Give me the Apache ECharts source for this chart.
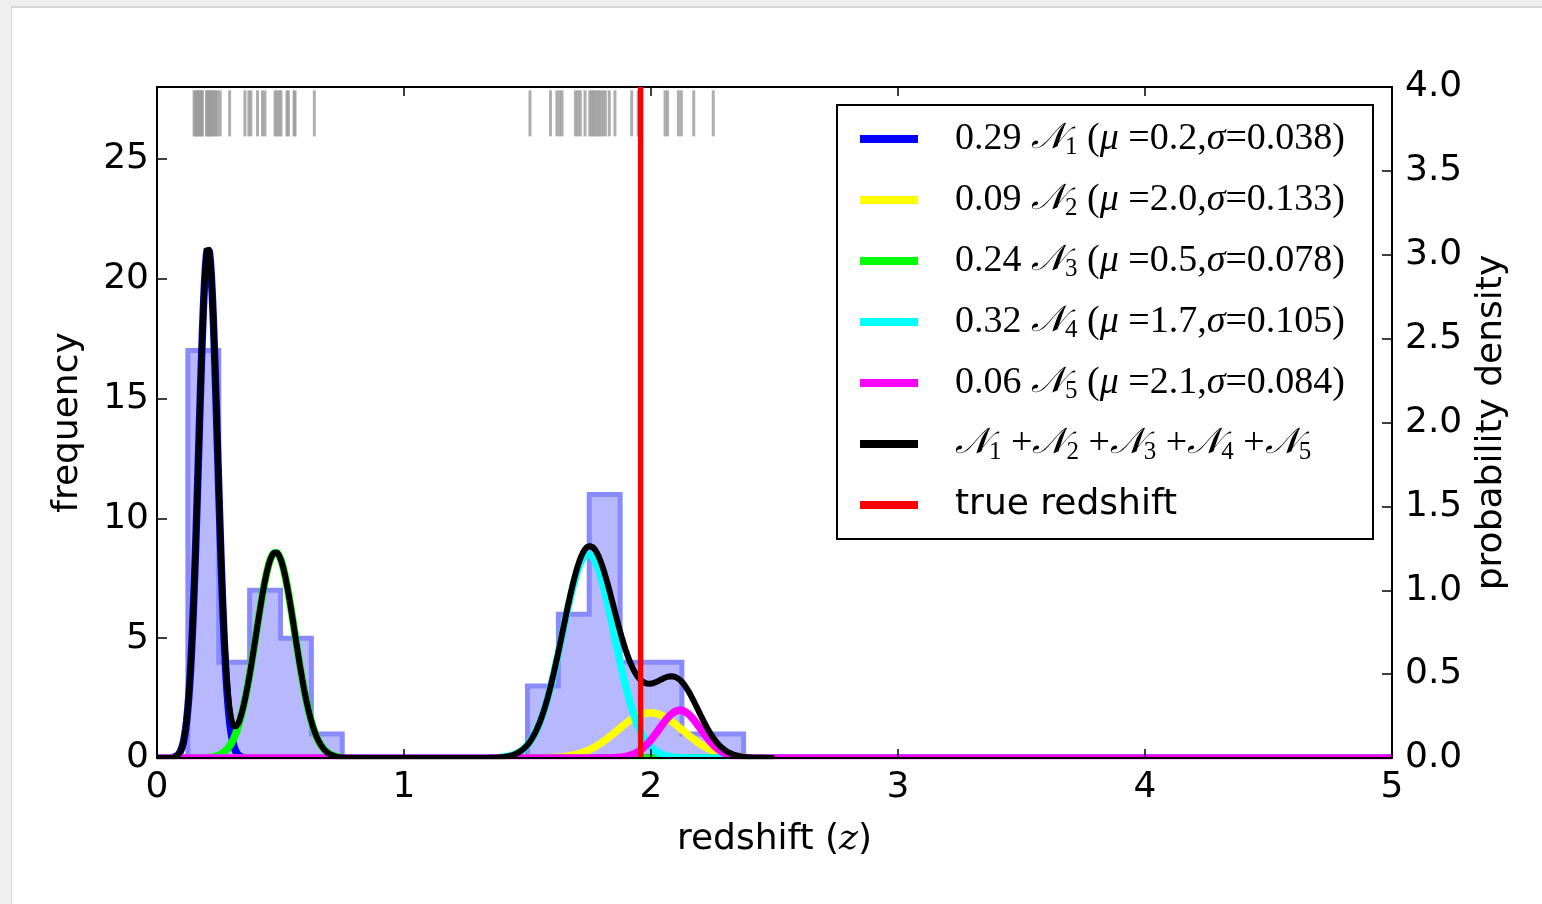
<!DOCTYPE html>
<html>
<head>
<meta charset="utf-8">
<script src="https://cdn.jsdelivr.net/npm/echarts@6/dist/echarts.min.js"></script>
<style>
html, body { margin: 0; padding: 0; background: #efefef; }
#frame { position: absolute; left: 11px; top: 6px; width: 1531px; height: 898px; background: #fff;
         border-left: 1px solid #d9d9d9; border-top: 2px solid #d6d6d6; box-sizing: border-box; }
#key { position: absolute; left: 0; top: 0; width: 1542px; height: 904px; }
</style>
</head>
<body>
<div id="frame"></div>
<div id="key"></div>
<script>
// histogram of redshift samples
var binEdges = [0.125, 0.25, 0.375, 0.5, 0.625, 0.75, 0.875, 1.0, 1.125, 1.25, 1.375,
                1.5, 1.625, 1.75, 1.875, 2.0, 2.125, 2.25, 2.375];
var binCounts = [17, 4, 7, 5, 1, 0, 0, 0, 0, 0, 0, 3, 6, 11, 4, 4, 1, 1];

// individual samples (rug at the top)
var samples = [
  0.150, 0.155, 0.160, 0.165, 0.170, 0.175, 0.180, 0.184, 0.200, 0.205, 0.210, 0.215,
  0.220, 0.226, 0.232, 0.238, 0.245, 0.256, 0.294, 0.356, 0.372, 0.380, 0.407, 0.427,
  0.437, 0.478, 0.486, 0.495, 0.502, 0.526, 0.532, 0.555, 0.559, 0.637,
  1.510, 1.593, 1.619, 1.630, 1.640, 1.694, 1.704, 1.714, 1.733, 1.752, 1.759, 1.766,
  1.773, 1.781, 1.789, 1.797, 1.806, 1.815, 1.831, 1.854, 1.922, 1.948, 1.955, 1.962,
  2.057, 2.067, 2.111, 2.123, 2.173, 2.252
];
var rugLevel = 26.9;

// gaussian mixture components
var compWeight = [0.29, 0.09, 0.24, 0.32, 0.06];
var compMu = [0.207, 1.996, 0.480, 1.746, 2.117];
var compSigma = [0.038, 0.133, 0.078, 0.105, 0.084];
var compWeightLabel = ['0.29', '0.09', '0.24', '0.32', '0.06'];
var compMuLabel = ['0.2', '2.0', '0.5', '1.7', '2.1'];
var compSigmaLabel = ['0.038', '0.133', '0.078', '0.105', '0.084'];
var compColors = ['#0000ff', '#ffff00', '#00ff00', '#00ffff', '#ff00ff'];
var sumRange = [0, 2.5];

var trueRedshift = 1.958;

var xTicks = [0, 5, 1];
var leftTicks = [0, 28, 5];
var rightTicks = [0, 4, 0.5];

var myChart = echarts.init(document.getElementById('key'), null, { renderer: 'canvas' });

// histogram outline as step points
var histData = [[binEdges[0], 0]];
for (var i = 0; i < binCounts.length; i++) histData.push([binEdges[i], binCounts[i]]);
histData.push([binEdges[binEdges.length - 1], 0]);

// evaluate component densities
var step = 0.004;
var compData = compWeight.map(function () { return []; });
var sumData = [];
for (var k = 0; k <= 1250; k++) {
  var x = k * step;
  var tot = 0;
  for (var c = 0; c < compWeight.length; c++) {
    var d = (x - compMu[c]) / compSigma[c];
    var v = compWeight[c] / (compSigma[c] * Math.sqrt(2 * Math.PI)) * Math.exp(-0.5 * d * d);
    compData[c].push([x, v]);
    tot += v;
  }
  if (x >= sumRange[0] && x <= sumRange[1] + 1e-9) sumData.push([x, tot]);
}

var legendText = {};
var compNames = [];
for (var c = 0; c < compWeight.length; c++) {
  var nm = 'N' + (c + 1);
  compNames.push(nm);
  legendText[nm] = '{n|' + compWeightLabel[c] + ' }{m|\uD835\uDCA9}{s|' + (c + 1) + '}{n| (}{g|\u03BC}{n| =' +
    compMuLabel[c] + ',}{g|\u03C3}{n|=' + compSigmaLabel[c] + ')}';
}
legendText['sum'] = '{m|\uD835\uDCA9}{s|1}{n| +}{m|\uD835\uDCA9}{s|2}{n| +}{m|\uD835\uDCA9}{s|3}{n| +}{m|\uD835\uDCA9}{s|4}{n| +}{m|\uD835\uDCA9}{s|5}';
legendText['true'] = '{t|true redshift}';

var axisFont = { color: '#000', fontSize: 36, fontFamily: 'DejaVu Sans' };
var spine = { show: true, onZero: false, lineStyle: { color: '#000', width: 2 } };
var tick = { show: true, inside: true, length: 9, lineStyle: { color: '#000', width: 1.5 } };

var series = [
  {
    name: 'hist', type: 'line', step: 'end', data: histData, xAxisIndex: 0, yAxisIndex: 0,
    showSymbol: false, silent: true,
    lineStyle: { color: '#8a8aff', width: 5, join: 'miter' },
    areaStyle: { color: '#b8b8ff', opacity: 1 }
  },
  {
    name: 'rug', type: 'scatter', xAxisIndex: 0, yAxisIndex: 0, silent: true,
    data: samples.map(function (s) { return [s, rugLevel]; }),
    symbol: 'rect', symbolSize: [3, 46],
    itemStyle: { color: '#9a9a9a' }
  }
];
compNames.forEach(function (nm, c) {
  series.push({
    name: nm, type: 'line', data: compData[c], xAxisIndex: 0, yAxisIndex: 1,
    showSymbol: false, color: compColors[c], lineStyle: { color: compColors[c], width: 7.5 }
  });
});
series.push({
  name: 'sum', type: 'line', data: sumData, xAxisIndex: 0, yAxisIndex: 1,
  showSymbol: false, color: '#000', lineStyle: { color: '#000', width: 6 }
});
series.push({
  name: 'true', type: 'line', data: [[trueRedshift, leftTicks[0]], [trueRedshift, leftTicks[1]]],
  xAxisIndex: 0, yAxisIndex: 0, showSymbol: false, color: '#ff0000',
  lineStyle: { color: '#ff0000', width: 5.5 }
});

var option = {
  animation: false,
  grid: { left: 157, top: 87, width: 1235, height: 671 },
  // hide the parts of the curves that spill outside the plot frame
  graphic: [
    { type: 'rect', z: 100, silent: true, shape: { x: 150, y: 759.2, width: 1250, height: 12 }, style: { fill: '#fff' } },
    { type: 'rect', z: 100, silent: true, shape: { x: 150, y: 748, width: 6, height: 12 }, style: { fill: '#fff' } },
    { type: 'rect', z: 100, silent: true, shape: { x: 1393.1, y: 748, width: 6, height: 12 }, style: { fill: '#fff' } }
  ],
  legend: {
    data: compNames.concat(['sum', 'true']),
    orient: 'vertical', left: 837, top: 105,
    padding: [13, 18, 13, 23], itemGap: 19,
    icon: 'rect', itemWidth: 58, itemHeight: 8,
    borderColor: '#000', borderWidth: 2, backgroundColor: '#fff',
    selectedMode: false,
    formatter: function (name) { return legendText[name]; },
    textStyle: {
      width: 400, lineHeight: 42, padding: [0, 0, 0, 32], color: '#000',
      rich: {
        n: { fontFamily: 'Liberation Serif', fontSize: 38, color: '#000' },
        m: { fontFamily: 'DejaVu Serif', fontSize: 36, fontStyle: 'italic', color: '#000' },
        s: { fontFamily: 'Liberation Serif', fontSize: 25, color: '#000', verticalAlign: 'bottom', lineHeight: 16 },
        g: { fontFamily: 'Liberation Serif', fontSize: 38, fontStyle: 'italic', color: '#000' },
        t: { fontFamily: 'DejaVu Sans', fontSize: 36, color: '#000' }
      }
    }
  },
  xAxis: [
    {
      type: 'value', min: xTicks[0], max: xTicks[1], interval: xTicks[2], position: 'bottom', z: 120,
      axisLine: spine, axisTick: tick, splitLine: { show: false },
      axisLabel: Object.assign({ margin: 12 }, axisFont),
      name: 'redshift ({i|z})', nameLocation: 'middle', nameGap: 62,
      nameTextStyle: Object.assign({ lineHeight: 40, rich: { i: { fontFamily: 'DejaVu Serif', fontStyle: 'italic', fontSize: 36, color: '#000' } } }, axisFont)
    },
    {
      type: 'value', min: xTicks[0], max: xTicks[1], interval: xTicks[2], position: 'top',
      axisLine: spine, axisTick: tick, splitLine: { show: false }, axisLabel: { show: false }
    }
  ],
  yAxis: [
    {
      type: 'value', min: leftTicks[0], max: leftTicks[1], interval: leftTicks[2], position: 'left', z: 120,
      axisLine: spine, axisTick: Object.assign({}, tick, { length: 10 }), splitLine: { show: false },
      axisLabel: Object.assign({ margin: 8, showMaxLabel: false }, axisFont),
      name: 'frequency', nameLocation: 'middle', nameGap: 71, nameRotate: 90,
      nameTextStyle: axisFont
    },
    {
      type: 'value', min: rightTicks[0], max: rightTicks[1], interval: rightTicks[2], position: 'right', z: 120,
      axisLine: spine, axisTick: Object.assign({}, tick, { length: 10 }), splitLine: { show: false },
      axisLabel: Object.assign({ margin: 13, formatter: function (v) { return v.toFixed(1); } }, axisFont),
      name: 'probability density', nameLocation: 'middle', nameGap: 80, nameRotate: 90,
      nameTextStyle: axisFont
    }
  ],
  series: series
};

myChart.setOption(option);
</script>
</body>
</html>
